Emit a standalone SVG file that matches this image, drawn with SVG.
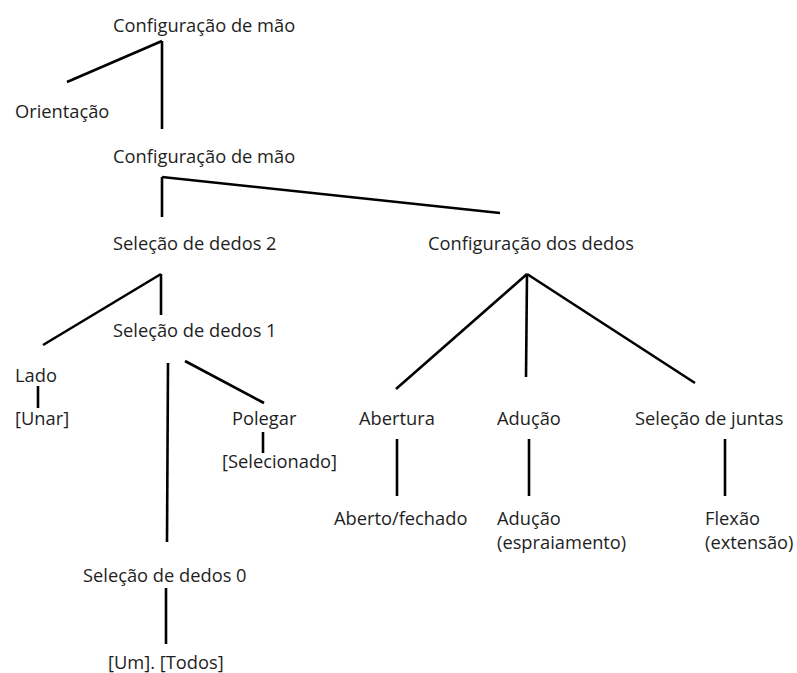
<svg xmlns="http://www.w3.org/2000/svg" width="797" height="673" viewBox="0 0 797 673">
<style>
text{font-family:"Open Sans","Noto Sans","DejaVu Sans",sans-serif;font-size:18.3px;fill:#1e1e1e}
.c line{stroke:#000;stroke-width:2.6;stroke-linecap:butt}
</style>
<rect width="797" height="673" fill="#fff"/>
<g class="c" id="connectors">
<line x1="162" y1="41" x2="162" y2="129"/>
<line x1="162" y1="41" x2="67" y2="82"/>
<line x1="162" y1="177" x2="162" y2="217"/>
<line x1="162" y1="177" x2="500" y2="213"/>
<line x1="161" y1="274" x2="161" y2="315"/>
<line x1="161" y1="274" x2="43" y2="345"/>
<line x1="38" y1="386" x2="38" y2="408"/>
<line x1="168" y1="363" x2="167" y2="542"/>
<line x1="185" y1="361" x2="264" y2="403"/>
<line x1="263" y1="432" x2="263" y2="453"/>
<line x1="527" y1="274" x2="396" y2="389"/>
<line x1="527" y1="274" x2="526" y2="377"/>
<line x1="527" y1="274" x2="695" y2="383"/>
<line x1="397" y1="439" x2="397" y2="496"/>
<line x1="529" y1="439" x2="529" y2="496"/>
<line x1="725" y1="439" x2="725" y2="496"/>
<line x1="166" y1="588" x2="166" y2="644"/>
</g>
<g id="n1"><text x="113" y="32">Configuração de mão</text></g>
<g id="n2"><text x="15" y="118">Orientação</text></g>
<g id="n3"><text x="113" y="163">Configuração de mão</text></g>
<g id="n4"><text x="113" y="250">Seleção de dedos 2</text></g>
<g id="n5"><text x="428" y="250">Configuração dos dedos</text></g>
<g id="n6"><text x="113" y="337">Seleção de dedos 1</text></g>
<g id="n7"><text x="15" y="382">Lado</text></g>
<g id="n8"><text x="15" y="425">[Unar]</text></g>
<g id="n9"><text x="232" y="425">Polegar</text></g>
<g id="n10"><text x="222" y="468">[Selecionado]</text></g>
<g id="n11"><text x="359" y="425">Abertura</text></g>
<g id="n12"><text x="497" y="425">Adução</text></g>
<g id="n13"><text x="635" y="425">Seleção de juntas</text></g>
<g id="n14"><text x="334" y="525">Aberto/fechado</text></g>
<g id="n15"><text x="497" y="525">Adução</text><text x="497" y="549">(espraiamento)</text></g>
<g id="n16"><text x="705" y="525">Flexão</text><text x="705" y="549">(extensão)</text></g>
<g id="n17"><text x="83" y="582">Seleção de dedos 0</text></g>
<g id="n18"><text x="108" y="669">[Um]. [Todos]</text></g>
</svg>
